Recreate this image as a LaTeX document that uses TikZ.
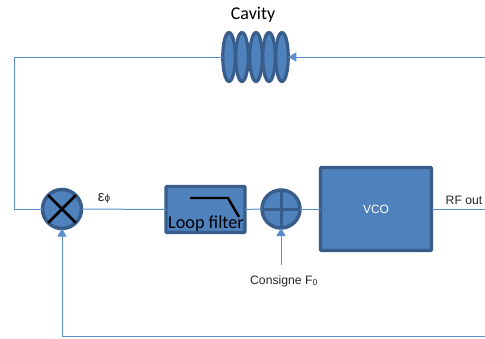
\documentclass[tikz,border=0pt]{standalone}
\usepackage{xcolor}
\usepackage{fontspec}
\usepackage{tikz}
\usetikzlibrary{arrows.meta,shapes.geometric}
\setmainfont{Liberation Sans}
\newfontfamily\carlitofont{Carlito}
\definecolor{blockfill}{HTML}{4F81BD}
\definecolor{blockline}{HTML}{385D8A}
\definecolor{wirec}{HTML}{5B8EC9}
\tikzset{
  block/.style={draw=blockline, fill=blockfill, line width=3.2pt, rounded corners=0.8pt, inner sep=0pt, outer sep=0pt},
  junction/.style={circle, draw=blockline, fill=blockfill, line width=3.5pt, minimum size=39pt, inner sep=0pt, outer sep=0pt},
  ring/.style={ellipse, draw=blockline, fill=blockfill, line width=3.2pt, line join=round, minimum width=12.5pt, minimum height=49pt, inner sep=0pt, outer sep=0pt},
  wire/.style={wirec, line width=1pt},
  arrowwire/.style={wire, -{Triangle[length=8pt, width=9pt]}},
  tag/.style={font=\fontsize{12.2}{14}\selectfont, text=black!85}
}
\begin{document}
\begin{tikzpicture}[x=1pt, y=-1pt]
  \useasboundingbox (0,0) rectangle (485,338);
  % feedback lines first
  \coordinate (cavin) at (485,57);
  \coordinate (topleft) at (14,57);
  \coordinate (midleft) at (14,209);
  \coordinate (rfstart) at (405,209);
  \coordinate (rfend) at (485,209);
  \coordinate (botright) at (485,336);
  \coordinate (botleft) at (62,336);
  \coordinate (setpoint) at (281,265);
  % cavity
  \foreach \i/\xpos in {1/229, 2/242, 3/256, 4/269, 5/282}
    \node[ring] (ring\i) at (\xpos,57) {};
  \node[font=\carlitofont\fontsize{18}{20}\selectfont] (cavlabel) at (253,15) {Cavity};
  % main chain
  \node[junction] (mixer) at (62,209) {};
  \draw[black, line width=2.6pt] (mixer.45) -- (mixer.225) (mixer.135) -- (mixer.315);
  \node[block, minimum width=79pt, minimum height=46pt] (filter) at (205.5,209.5) {};
  \draw[black, line width=2.4pt] (190,198) -- (228,198) -- (239,217);
  \node[font=\carlitofont\fontsize{18.2}{20}\selectfont] (filterlabel) at (206,224) {Loop filter};
  \node[junction, minimum size=38pt] (adder) at (281,209) {};
  \draw[blockline, line width=3pt] (adder.north) -- (adder.south) (adder.west) -- (adder.east);
  \node[block, minimum width=111pt, minimum height=83pt, text=white, font=\fontsize{12}{14}\selectfont] (vco) at (376,209) {VCO};
  % connectors
  \draw[arrowwire] (cavin) -- (ring5.east);
  \draw[wire] (ring1.west) -- (topleft) -- (midleft) -- (mixer.west);
  \draw[wire] (mixer.east) -- (filter.west);
  \draw[wire] (filter.east) -- (adder.west);
  \draw[wire] (adder.east) -- (vco.west);
  \draw[wire, opacity=0.25] (rfstart) -- (vco.east);
  \draw[wire] (vco.east) -- (rfend);
  \draw[arrowwire] (botright) -- (botleft) -- (mixer.south);
  \draw[arrowwire] (setpoint) -- (adder.south);
  % labels
  \node[tag] (phase) at (104,198) {\fontsize{15}{16}\selectfont ε\fontsize{10}{12}\selectfont ϕ};
  \node[tag] (rflabel) at (464,200) {RF out};
  \node[tag] (setlabel) at (284,281) {Consigne F\textsubscript{0}};
\end{tikzpicture}
\end{document}
